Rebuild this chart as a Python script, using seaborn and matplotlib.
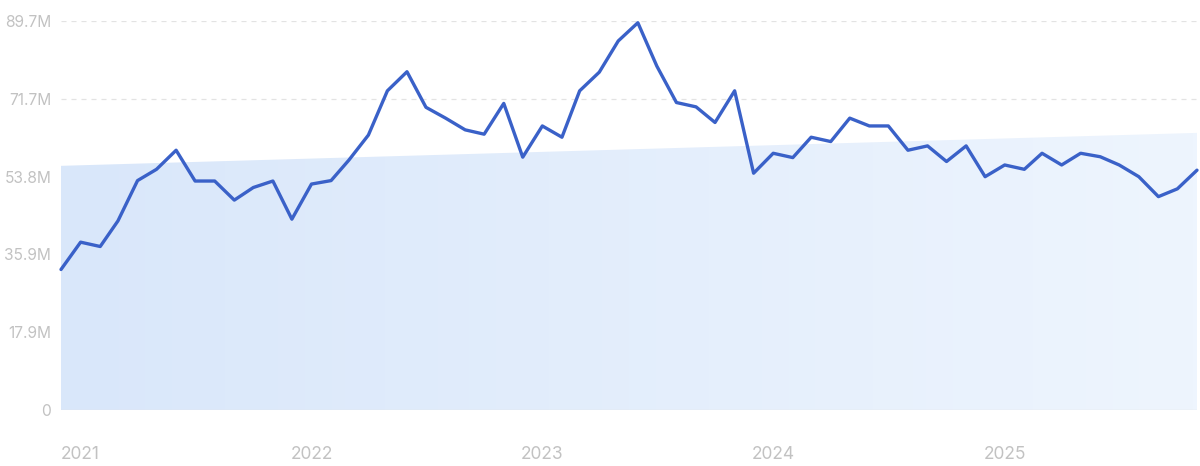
import seaborn as sns
import matplotlib.pyplot as plt
import matplotlib.dates as mdates
import numpy as np
import pandas as pd

# monthly values in millions, Dec 2020 .. Nov 2025
months = pd.date_range('2020-12-01', periods=60, freq='MS')
values = [
    32.4, 38.7, 37.7, 43.6, 52.9, 55.5, 59.9, 52.8, 52.8, 48.4, 51.3, 52.8,
    44.0, 52.1, 52.9, 57.6, 63.4, 73.6, 78.0, 69.8, 67.3, 64.6, 63.6, 70.7,
    58.3, 65.5, 62.9, 73.6, 77.9, 85.1, 89.3, 79.3, 70.9, 69.9, 66.3, 73.6,
    54.6, 59.2, 58.2, 62.9, 61.9, 67.3, 65.5, 65.5, 59.9, 60.9, 57.3, 60.9,
    53.8, 56.5, 55.5, 59.2, 56.5, 59.2, 58.4, 56.5, 53.8, 49.2, 51.0, 55.3,
]
trend_start = 56.3
trend_end = 63.9
yticks = [0, 17.9, 35.9, 53.8, 71.7, 89.7]
ytick_labels = ['0', '17.9M', '35.9M', '53.8M', '71.7M', '89.7M']
year_ticks = ['2021-01-01', '2022-01-01', '2023-01-01', '2024-01-01', '2025-01-01']
year_labels = ['2021', '2022', '2023', '2024', '2025']

df = pd.DataFrame({'month': months, 'value': values})

sns.set_style('white')
plt.rcParams['font.family'] = ['Inter', 'DejaVu Sans']

fig = plt.figure(figsize=(12, 4.66), dpi=100)
ax = fig.add_axes([61 / 1200, 1 - 410 / 466, 1136 / 1200, 389 / 466])

# trend band with a left-to-right gradient
tx = mdates.date2num([months[0], months[-1]])
band = ax.fill_between(tx, [trend_start, trend_end], 0, color='none', lw=0)
grad = np.linspace(0, 1, 256).reshape(1, -1)
cmap = sns.blend_palette(['#d9e7fa', '#eef5fe'], as_cmap=True)
img = ax.imshow(grad, cmap=cmap, aspect='auto', origin='lower',
                extent=[tx[0], tx[1], 0, trend_end], zorder=1)
img.set_clip_path(band.get_paths()[0], transform=ax.transData)

for y in yticks[1:]:
    ax.axhline(y, color='#e3e3e3', lw=0.9, ls=(0, (4, 4)), zorder=0)
ax.axhline(0, color='#e6e6e6', lw=1, zorder=2)

sns.lineplot(data=df, x='month', y='value', ax=ax, color='#3a61c8',
             lw=2.4, zorder=3, clip_on=False)

ax.set_xlim(months[0], months[-1])
ax.set_ylim(0, 89.7)
ax.set_yticks(yticks)
ax.set_yticklabels(ytick_labels)
ax.set_xticks(pd.to_datetime(year_ticks))
ax.set_xticklabels(year_labels)
ax.tick_params(axis='y', length=0, pad=7, labelsize=11.2, labelcolor='#c2c2c2')
ax.tick_params(axis='x', length=0, pad=26, labelsize=12.5, labelcolor='#c2c2c2')
ax.set_xlabel('')
ax.set_ylabel('')
for s in ax.spines.values():
    s.set_visible(False)

fig.savefig('out.png', dpi=100)
